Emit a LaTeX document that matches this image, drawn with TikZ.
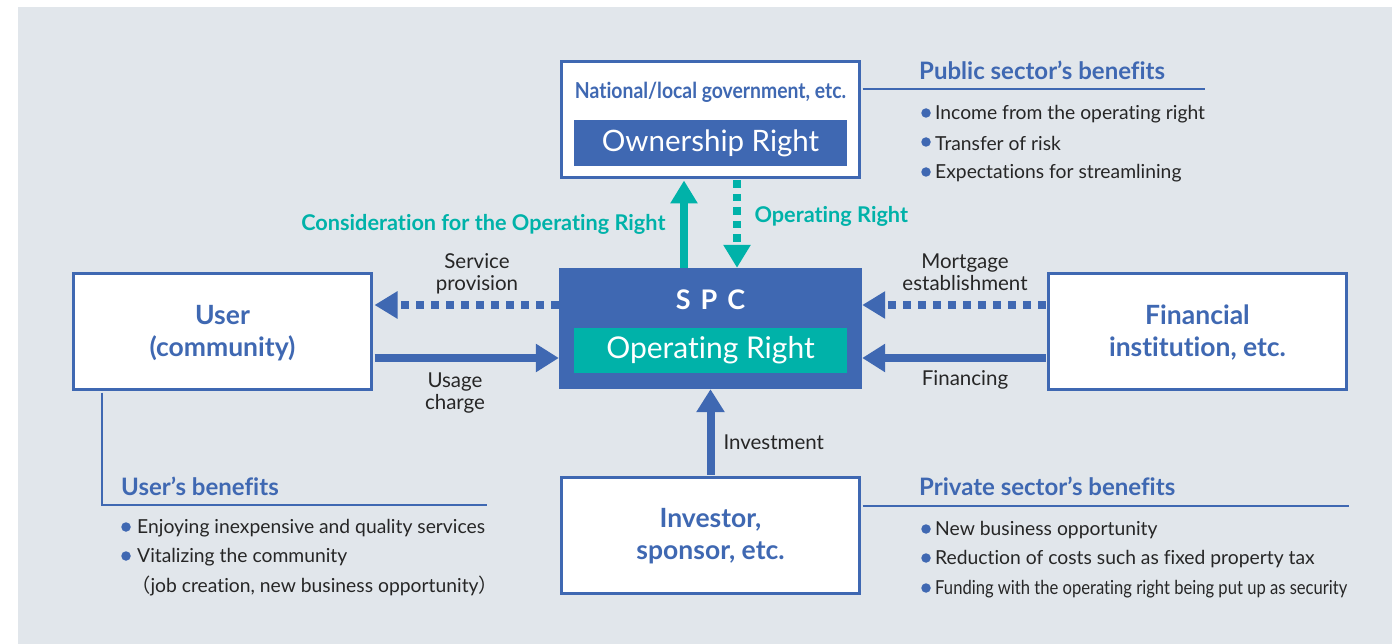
\documentclass[tikz,border=0pt]{standalone}
\usepackage{graphicx}
\usepackage{fontspec}
\setmainfont{Lato}[Ligatures=NoCommon]
\newfontfamily\cjk{Noto Sans CJK JP}
\usetikzlibrary{arrows.meta}
\definecolor{bg}{HTML}{E1E6EB}
\definecolor{cblue}{HTML}{3F68B2}
\definecolor{cteal}{HTML}{00B2A9}
\definecolor{ctext}{HTML}{262626}
\tikzset{
  box/.style={draw=cblue, line width=3pt, fill=white, minimum width=298pt, minimum height=116pt, inner sep=0pt},
  boxtext/.style={text=cblue, font=\fontsize{26.5}{32}\selectfont\bfseries, align=center},
  lbl/.style={text=ctext, font=\fontsize{20.5}{22}\selectfont, align=center},
  tlbl/.style={text=cteal, font=\fontsize{21.7}{24}\selectfont\bfseries},
  solidarrow/.style={draw=cblue, line width=8pt, -{Triangle[width=27pt,length=23pt]}},
  dotarrow/.style={draw=cblue, line width=7.5pt, dash pattern=on 7.5pt off 7.5pt, -{Triangle[width=26pt,length=23pt]}},
  header/.style={text=cblue, font=\fontsize{24}{26}\selectfont\bfseries, anchor=west, inner sep=0pt},
  item/.style={text=ctext, font=\fontsize{19.3}{22}\selectfont, anchor=west, inner sep=0pt},
  bulletdot/.style={circle, fill=cblue, inner sep=0pt, minimum size=9.5pt},
  thinline/.style={draw=cblue, line width=1.5pt},
  innerbar/.style={minimum width=273pt, minimum height=46pt, inner sep=0pt, text=white, font=\fontsize{29.5}{32}\selectfont}
}
\begin{document}
\begin{tikzpicture}[x=1pt,y=-1pt]
\useasboundingbox (0,0) rectangle (1392,644);
\fill[white] (0,0) rectangle (1392,644);
\fill[bg] (18,7) rectangle (1392,644);

% main boxes
\node[box] (gov) at (710.5,119.5) {};
\node[text=cblue, font=\fontsize{22}{24}\selectfont\bfseries] (govtitle) at (710.5,92) {\scalebox{0.88}[1]{National/local government, etc.}};
\node[innerbar, fill=cblue] (own) at (710.5,143) {Ownership Right};

\node[fill=cblue, minimum width=303pt, minimum height=121pt, inner sep=0pt] (spc) at (710.5,328.5) {};
\node[text=white, font=\fontsize{27}{30}\selectfont\bfseries] (spctitle) at (710.5,300) {S\hspace{10pt}P\hspace{10pt}C};
\node[innerbar, fill=cteal, minimum height=45pt, font=\fontsize{30}{32}\selectfont] (oper) at (710.5,350.5) {Operating Right};

\node[box] (user) at (222.5,331.5) {};
\node[boxtext] (usertext) at (222.5,333) {User\\(community)};

\node[box] (fin) at (1197.5,331.5) {};
\node[boxtext] (fintext) at (1197.5,333) {Financial\\institution, etc.};

\node[box] (inv) at (710.5,535.5) {};
\node[boxtext] (invtext) at (710.5,536) {Investor,\\sponsor, etc.};

% helper coordinates
\coordinate (cup) at (684,0);
\coordinate (cdown) at (737,0);
\coordinate (rowA) at (0,305);
\coordinate (rowB) at (0,358);

% teal arrows
\draw[draw=cteal, line width=8pt, -{Triangle[width=26pt,length=23pt]}] (spc.north -| cup) -- ([yshift=-1.5pt]gov.south -| cup);
\draw[draw=cteal, line width=7.5pt, dash pattern=on 7.5pt off 6pt, -{Triangle[width=26pt,length=23pt]}] ([yshift=-1.5pt]gov.south -| cdown) -- (spc.north -| cdown);
\node[tlbl, anchor=east] (consid) at (669,224) {Consideration for the Operating Right};
\node[tlbl, anchor=west] (operlbl) at (751,216) {Operating Right};

% left arrows
\draw[dotarrow] (spc.west |- rowA) -- ([xshift=1.5pt]user.east |- rowA);
\draw[solidarrow] ([xshift=1.5pt]user.east |- rowB) -- (spc.west |- rowB);
\node[lbl] (servlbl) at (477,274) {Service\\provision};
\node[lbl] (usagelbl) at (455,393) {Usage\\charge};

% right arrows
\draw[dotarrow] ([xshift=-1.5pt]fin.west |- rowA) -- (spc.east |- rowA);
\draw[solidarrow] ([xshift=-1.5pt]fin.west |- rowB) -- (spc.east |- rowB);
\node[lbl] (mortlbl) at (965,272) {Mortgage\\establishment};
\node[lbl] (finlbl) at (965,380) {Financing};

% investment arrow
\draw[solidarrow] ([yshift=1.5pt]inv.north) -- (spc.south);
\node[lbl, anchor=west] (invlbl) at (720,442) {Investment};

% public sector benefits
\coordinate (pubend) at (1205,89);
\draw[thinline] ([xshift=1.5pt]gov.east |- pubend) -- (pubend);
\node[header] (pubhead) at (919,70) {Public sector’s benefits};
\node[bulletdot] (pb1) at (926,113) {};
\node[item] (pt1) at (935,114) {Income from the operating right};
\node[bulletdot] (pb2) at (926,142) {};
\node[item] (pt2) at (935,143) {Transfer of risk};
\node[bulletdot] (pb3) at (926,172) {};
\node[item] (pt3) at (935,173) {Expectations for streamlining};

% user's benefits
\coordinate (ucorner) at (102,505);
\coordinate (uend) at (487,505);
\draw[thinline] ([yshift=-1.5pt]user.south -| ucorner) -- (ucorner) -- (uend);
\node[header] (userhead) at (121,486) {User’s benefits};
\node[bulletdot] (ub1) at (126,527) {};
\node[item] (ut1) at (137,528) {Enjoying inexpensive and quality services};
\node[bulletdot] (ub2) at (126,556) {};
\node[item] (ut2) at (137,557) {Vitalizing the community};
\node[item] (ut3) at (131,586) {{\cjk （}job creation, new business opportunity{\cjk ）}};

% private sector benefits
\coordinate (pend) at (1349,506);
\draw[thinline] ([xshift=1.5pt]inv.east |- pend) -- (pend);
\node[header] (privhead) at (919,486) {Private sector’s benefits};
\node[bulletdot] (rb1) at (926,529) {};
\node[item] (rt1) at (935,530) {New business opportunity};
\node[bulletdot] (rb2) at (926,558) {};
\node[item] (rt2) at (935,559) {Reduction of costs such as fixed property tax};
\node[bulletdot] (rb3) at (926,588) {};
\node[item] (rt3) at (935,589) {\scalebox{0.86}[1]{Funding with the operating right being put up as security}};
\end{tikzpicture}
\end{document}
